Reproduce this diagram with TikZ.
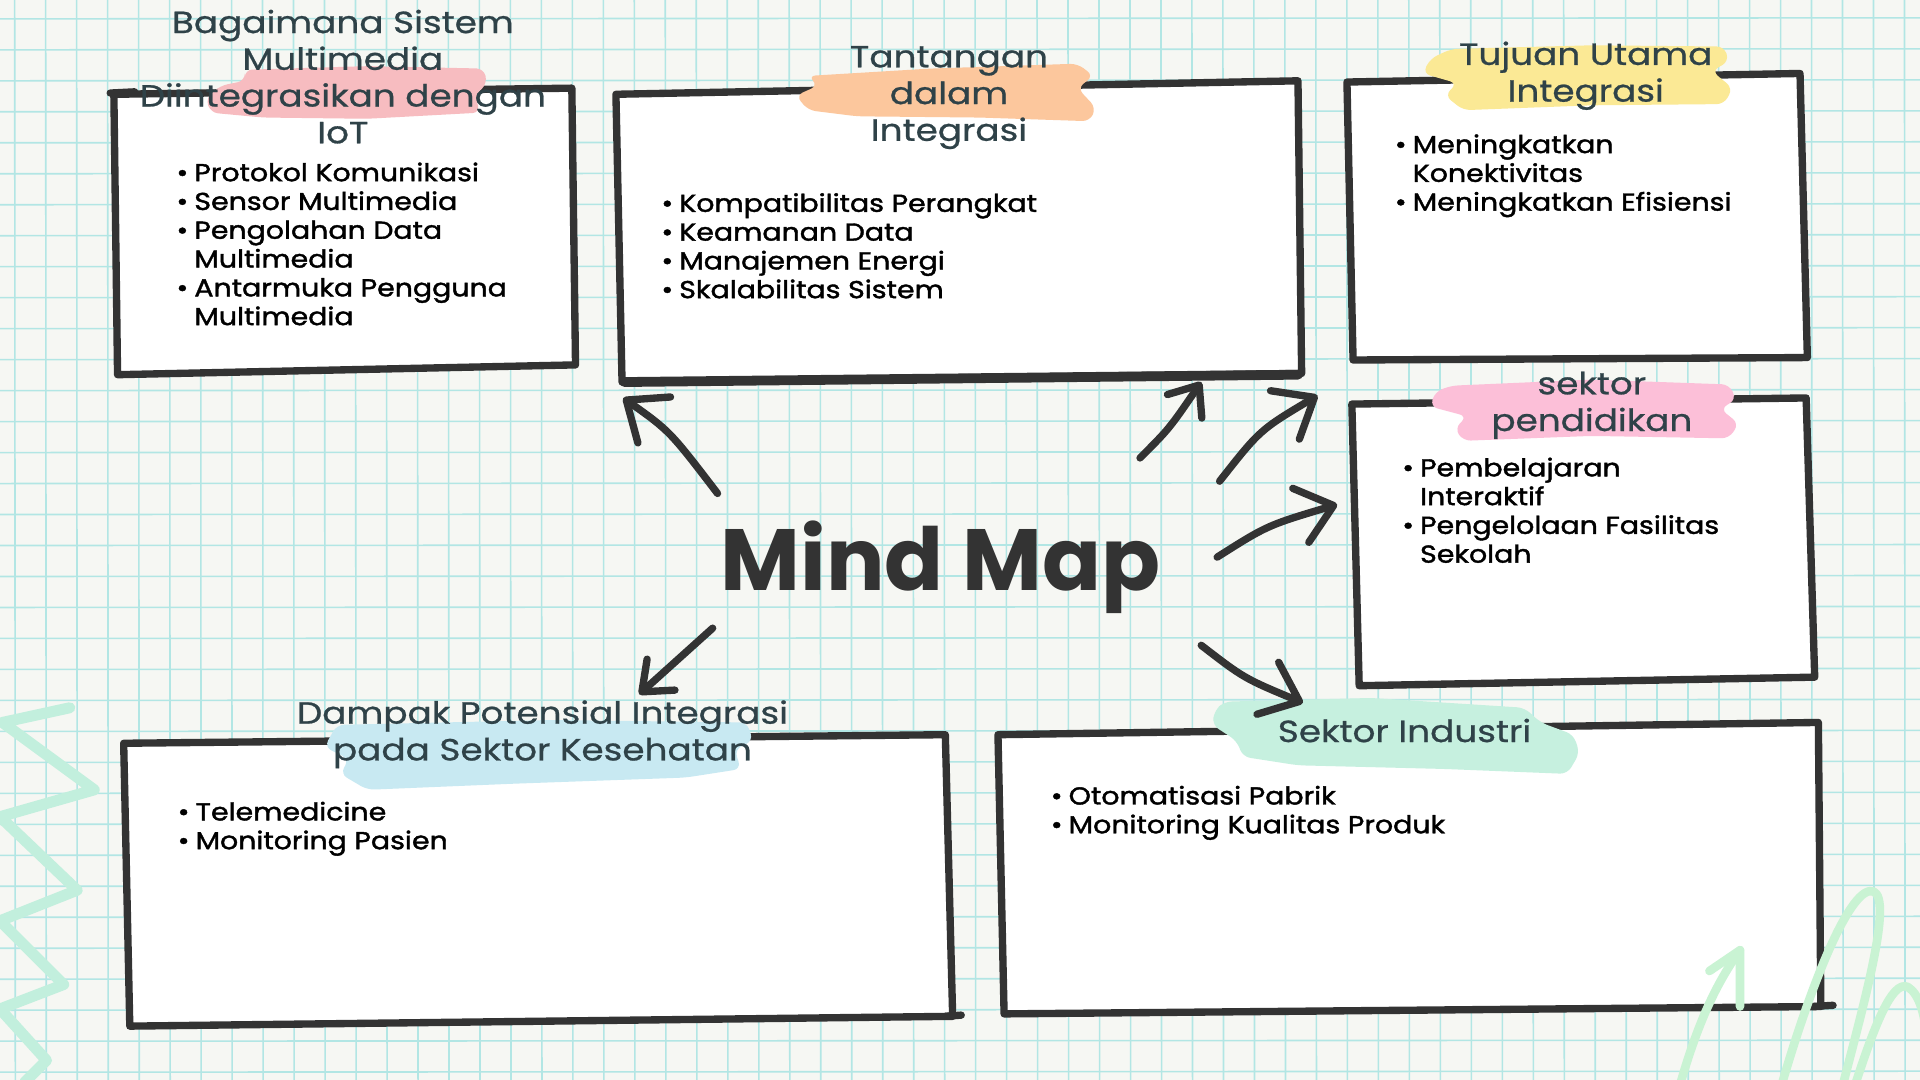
\documentclass[tikz,border=0pt]{standalone}
\usepackage{fontspec}
\usetikzlibrary{arrows.meta}
\setmainfont{Poppins}
\newfontfamily\bodyfont{Poppins}[FakeBold=1.6, FakeStretch=1.16]
\newfontfamily\titlefont{Poppins}[FakeBold=0.8, FakeStretch=1.17]
\definecolor{bgc}{HTML}{F6F7F3}
\definecolor{gridc}{HTML}{B2E6E4}
\definecolor{boxc}{HTML}{333333}
\definecolor{titlec}{HTML}{2F4248}
\definecolor{hlA}{HTML}{F7BCC0}
\definecolor{hlB}{HTML}{FCC79D}
\definecolor{hlC}{HTML}{FBE995}
\definecolor{hlD}{HTML}{FCBFD8}
\definecolor{hlE}{HTML}{C8E9F2}
\definecolor{hlF}{HTML}{C6F0DF}
\definecolor{zigc}{HTML}{C2EFDD}
\definecolor{loopc}{HTML}{C9F3D3}
\tikzset{
  boxline/.style={draw=boxc, line width=6pt, line join=round, line cap=round},
  boxfill/.style={fill=white},
  hl/.style={rounded corners=6pt},
  body/.style={inner sep=0pt, text=black, font=\bodyfont\fontsize{20}{23.5}\selectfont, anchor=base west},
  ttl/.style={inner sep=0pt, text=titlec, font=\titlefont\fontsize{25}{30}\selectfont, anchor=base},
  arr/.style={draw=boxc, line width=6pt, line cap=round, -{Straight Barb[length=28pt,width=46pt,round]}},
  arrs/.style={draw=boxc, line width=6pt, line cap=round, -{Straight Barb[length=21pt,width=34pt,round]}},
  deco/.style={line width=9pt, line cap=round, line join=round},
}
\newcommand\bul{\textbullet}
\begin{document}
\begin{tikzpicture}[x=1pt,y=-1pt]
\useasboundingbox (0,0) rectangle (1568,882);
\fill[bgc] (0,0) rectangle (1568,882);
% grid
\begin{scope}
\clip (0,0) rectangle (1568,882);
\foreach \i in {0,...,62} \draw[gridc, line width=1.3pt] ({12+25.3*\i},0) -- ({12.5+25.3*\i},882);
\foreach \j in {0,...,35} \draw[gridc, line width=1.3pt] (0,{15.4+25.3*\j}) -- (1568,{14.6+25.3*\j});
\end{scope}

% boxes
\fill[boxfill] (93,76) -- (467,72) -- (470,298) -- (96,306) -- cycle;
\draw[boxline] (93,77) -- (467,72) -- (470,298) -- (96,306) -- cycle;
\draw[boxline] (90,76) -- (110,75);

\fill[boxfill] (503,76) -- (1060,66) -- (1063,305) -- (508,313) -- cycle;
\draw[boxline] (503,77) -- (1060,66) -- (1063,305) -- (508,312) -- cycle;
\draw[boxline, line width=8pt] (510,312) -- (1060,306);

\fill[boxfill] (1100,67) -- (1470,60) -- (1476,292) -- (1105,294) -- cycle;
\draw[boxline] (1100,67) -- (1470,60) -- (1476,292) -- (1105,294) -- cycle;

\fill[boxfill] (1104,330) -- (1475,325) -- (1482,553) -- (1110,560) -- cycle;
\draw[boxline] (1104,330) -- (1475,325) -- (1482,553) -- (1110,560) -- cycle;

\fill[boxfill] (101,607) -- (772,600) -- (778,830) -- (106,838) -- cycle;
\draw[boxline] (101,607) -- (772,600) -- (778,830) -- (106,838) -- cycle;
\draw[boxline] (772,830) -- (785,829);

\fill[boxfill] (815,600) -- (1485,590) -- (1487,822) -- (820,828) -- cycle;
\draw[boxline] (815,600) -- (1485,590) -- (1487,822) -- (820,828) -- cycle;
\draw[boxline] (1480,822) -- (1497,821);

% highlights
\fill[hlA, hl] (200,57) -- (300,54) -- (395,56) -- (398,68) -- (388,78) -- (392,92) -- (300,97) -- (215,96) -- (172,92) -- (168,80) -- (180,70) -- (200,66) -- cycle;
\fill[hlB, hl] (660,62) -- (760,56) -- (880,52) -- (893,62) -- (880,72) -- (895,88) -- (890,99) -- (800,96) -- (700,95) -- (660,90) -- (650,78) -- (668,70) -- cycle;
\fill[hlC, hl] (1185,40) -- (1300,37) -- (1408,38) -- (1412,50) -- (1398,58) -- (1415,72) -- (1408,85) -- (1300,86) -- (1195,90) -- (1180,78) -- (1190,68) -- (1162,60) -- (1168,48) -- cycle;
\fill[hlD, hl] (1185,315) -- (1300,310) -- (1412,314) -- (1418,326) -- (1405,334) -- (1420,346) -- (1412,358) -- (1300,356) -- (1195,360) -- (1188,350) -- (1198,340) -- (1168,332) -- (1172,320) -- cycle;
\fill[hlE, hl] (275,592) -- (450,588) -- (610,590) -- (615,605) -- (600,612) -- (605,628) -- (560,635) -- (420,640) -- (300,645) -- (278,632) -- (285,620) -- (265,610) -- cycle;
\fill[hlF, hl] (1000,573) -- (1120,570) -- (1245,578) -- (1258,590) -- (1285,600) -- (1290,615) -- (1280,632) -- (1180,628) -- (1060,625) -- (1015,618) -- (1010,605) -- (990,592) -- (992,580) -- cycle;

% titles
\node[ttl] (tA) at (280,27) {\begin{tabular}[t]{@{}c@{}}Bagaimana Sistem\\Multimedia\\Diintegrasikan dengan\\IoT\end{tabular}};
\node[ttl] (tB) at (775,55) {\begin{tabular}[t]{@{}c@{}}Tantangan\\dalam\\Integrasi\end{tabular}};
\node[ttl] (tC) at (1295,53) {\begin{tabular}[t]{@{}c@{}}Tujuan Utama\\Integrasi\end{tabular}};
\node[ttl] (tD) at (1300,322) {\begin{tabular}[t]{@{}c@{}}sektor\\pendidikan\end{tabular}};
\node[ttl] (tE) at (443,591) {\begin{tabular}[t]{@{}c@{}}Dampak Potensial Integrasi\\pada Sektor Kesehatan\end{tabular}};
\node[ttl] (tF) at (1147,606) {Sektor Industri};

% bodies
\node[body] (bA) at (144,148) {\begin{tabular}[t]{@{}l@{\hspace{5pt}}l@{}}\bul & Protokol Komunikasi\\ \bul & Sensor Multimedia\\ \bul & Pengolahan Data\\ & Multimedia\\ \bul & Antarmuka Pengguna\\ & Multimedia\end{tabular}};
\node[body] (bB) at (540,173) {\begin{tabular}[t]{@{}l@{\hspace{5pt}}l@{}}\bul & Kompatibilitas Perangkat\\ \bul & Keamanan Data\\ \bul & Manajemen Energi\\ \bul & Skalabilitas Sistem\end{tabular}};
\node[body] (bC) at (1139,125) {\begin{tabular}[t]{@{}l@{\hspace{5pt}}l@{}}\bul & Meningkatkan\\ & Konektivitas\\ \bul & Meningkatkan Efisiensi\end{tabular}};
\node[body] (bD) at (1145,389) {\begin{tabular}[t]{@{}l@{\hspace{5pt}}l@{}}\bul & Pembelajaran\\ & Interaktif\\ \bul & Pengelolaan Fasilitas\\ & Sekolah\end{tabular}};
\node[body] (bE) at (145,670) {\begin{tabular}[t]{@{}l@{\hspace{5pt}}l@{}}\bul & Telemedicine\\ \bul & Monitoring Pasien\end{tabular}};
\node[body] (bF) at (858,657) {\begin{tabular}[t]{@{}l@{\hspace{5pt}}l@{}}\bul & Otomatisasi Pabrik\\ \bul & Monitoring Kualitas Produk\end{tabular}};

% centre
\node[inner sep=0pt, text=boxc, font=\bfseries\fontsize{71}{78}\selectfont, anchor=base] (mm) at (768,482) {Mind Map};

% arrows
\coordinate (t1) at (586,403); \coordinate (h1) at (509,325);
\coordinate (t2) at (931,374); \coordinate (h2) at (981,312);
\coordinate (t3) at (996,393); \coordinate (h3) at (1076,323);
\coordinate (t4) at (994,455); \coordinate (h4) at (1092,412);
\coordinate (t5) at (981,527); \coordinate (h5) at (1064,574);
\coordinate (t6) at (582,513); \coordinate (h6) at (522,567);
\draw[arr] (t1) .. controls (547,352) .. (h1);
\draw[arrs] (t2) .. controls (955,350) .. (h2);
\draw[arr] (t3) .. controls (1029,351) .. (h3);
\draw[arr] (t4) .. controls (1035,429) .. (h4);
\draw[arr] (t5) .. controls (1016,554) .. (h5);
\draw[arrs] (t6) -- (h6);

% decorations
\draw[deco, zigc] (57,578) -- (2,590) -- (77,645) -- (0,667) -- (63,727) -- (0,752) -- (52,804) -- (0,824) -- (38,866) -- (20,884);
\draw[deco, loopc, line width=7pt] (1455,886) .. controls (1480,800) and (1512,722) .. (1530,728) .. controls (1546,735) and (1522,820) .. (1505,886);
\draw[deco, loopc, line width=7pt] (1515,886) .. controls (1530,840) and (1545,800) .. (1558,806) .. controls (1568,812) and (1572,830) .. (1574,850);
\draw[deco, loopc, line width=7pt] (1372,886) .. controls (1388,830) and (1404,800) .. (1421,776);
\draw[deco, loopc, line width=7pt] (1396,793) -- (1421,776) -- (1421,822);
\end{tikzpicture}
\end{document}
